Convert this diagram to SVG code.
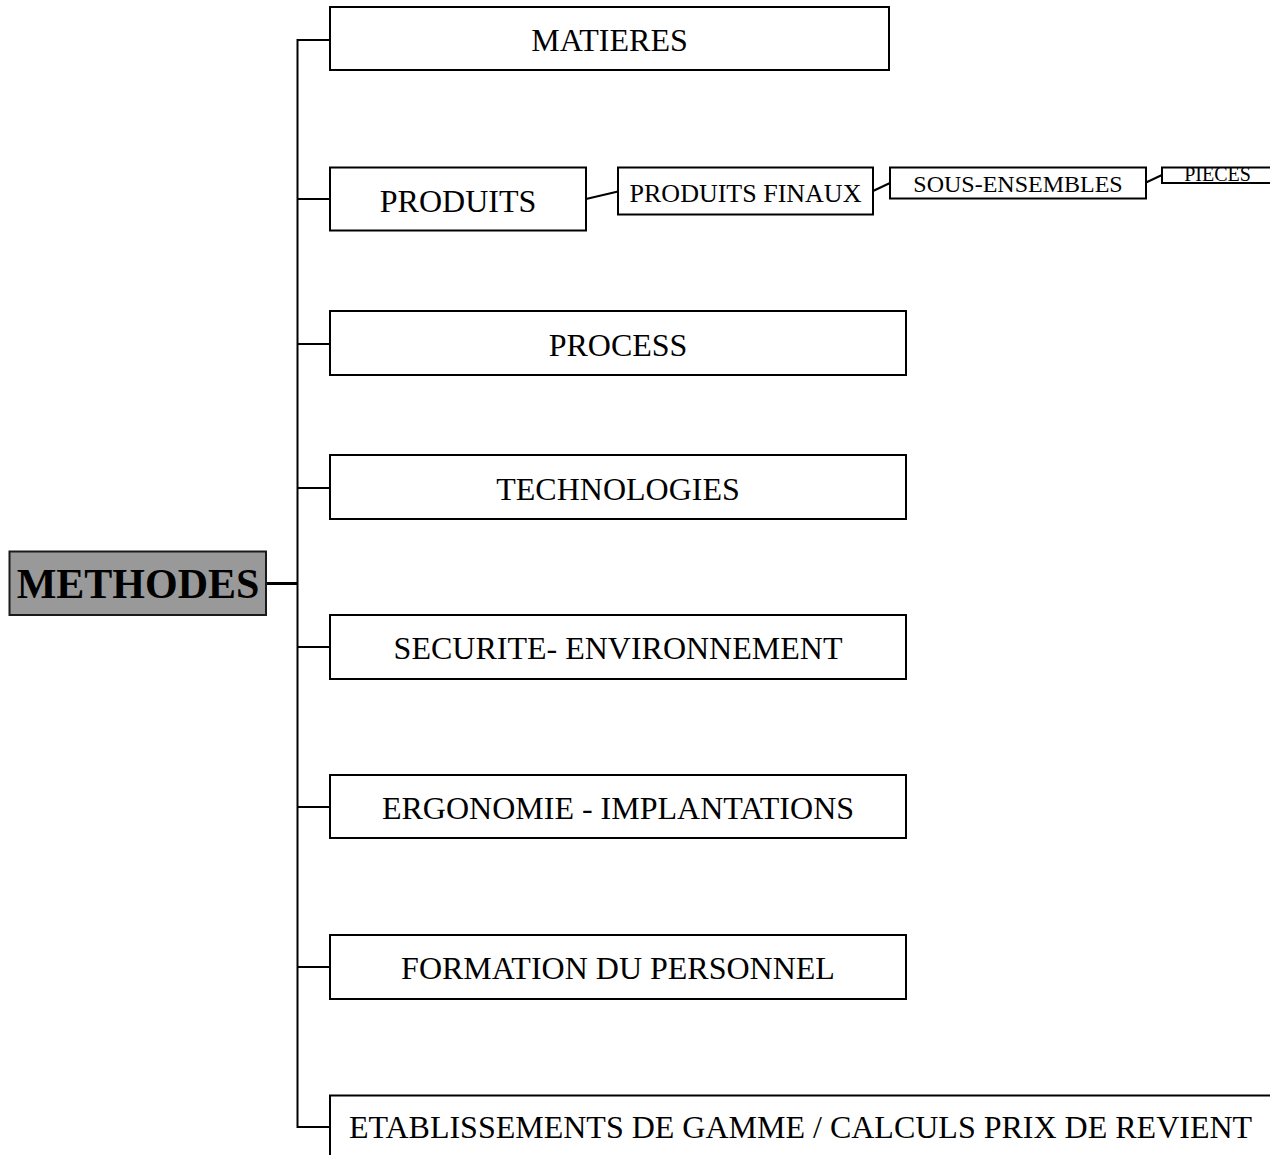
<svg xmlns="http://www.w3.org/2000/svg" width="1270" height="1155" viewBox="0 0 1270 1155">
  <style>
    .box { fill: #ffffff; stroke: #000000; stroke-width: 2; }
    .root { fill: #999999; stroke: #1a1a1a; stroke-width: 2; }
    .link { fill: none; stroke: #000000; stroke-width: 2; }
    .lbl { font-family: "Liberation Serif", "Times New Roman", serif; fill: #000000; text-anchor: middle; }
    .l32 { font-size: 32px; }
    .l26 { font-size: 26px; }
    .l24 { font-size: 24px; }
    .l20 { font-size: 20px; }
    .title { font-size: 42px; font-weight: bold; }
  </style>
  <rect width="1270" height="1155" fill="#ffffff"/>

  <!-- connectors -->
  <g id="connectors">
    <!-- trunk with top and bottom elbows -->
    <path class="link" d="M330,40 H297.5 V1127 H330"/>
    <line class="link" x1="266" y1="583.5" x2="297.5" y2="583.5" style="stroke-width:3"/>
    <line class="link" x1="297.5" y1="199" x2="330" y2="199"/>
    <line class="link" x1="297.5" y1="344" x2="330" y2="344"/>
    <line class="link" x1="297.5" y1="488" x2="330" y2="488"/>
    <line class="link" x1="297.5" y1="647" x2="330" y2="647"/>
    <line class="link" x1="297.5" y1="807" x2="330" y2="807"/>
    <line class="link" x1="297.5" y1="967" x2="330" y2="967"/>
    <!-- product breakdown chain -->
    <line class="link" x1="586" y1="199" x2="618" y2="191.5"/>
    <line class="link" x1="873" y1="191" x2="890" y2="183"/>
    <line class="link" x1="1146" y1="182.5" x2="1162" y2="175"/>
  </g>

  <g id="methodes">
    <rect class="root" x="9.5" y="551.5" width="256.5" height="63.5"/>
    <text class="lbl title" x="138" y="598">METHODES</text>
  </g>

  <g id="matieres">
    <rect class="box" x="330" y="7" width="559" height="63"/>
    <text class="lbl l32" x="609.5" y="51">MATIERES</text>
  </g>

  <g id="produits">
    <rect class="box" x="330" y="167.5" width="256" height="63"/>
    <text class="lbl l32" x="458" y="211.5">PRODUITS</text>
  </g>

  <g id="produits-finaux">
    <rect class="box" x="618" y="167.5" width="255" height="47"/>
    <text class="lbl l26" x="745.5" y="202">PRODUITS FINAUX</text>
  </g>

  <g id="sous-ensembles">
    <rect class="box" x="890" y="167.5" width="256" height="31"/>
    <text class="lbl l24" x="1018" y="192">SOUS-ENSEMBLES</text>
  </g>

  <g id="pieces">
    <rect class="box" x="1162" y="167.5" width="130" height="15.5"/>
    <text class="lbl l20" x="1217.5" y="181">PIECES</text>
  </g>

  <g id="process">
    <rect class="box" x="330" y="311" width="576" height="64"/>
    <text class="lbl l32" x="618" y="355.5">PROCESS</text>
  </g>

  <g id="technologies">
    <rect class="box" x="330" y="455" width="576" height="64"/>
    <text class="lbl l32" x="618" y="499.5">TECHNOLOGIES</text>
  </g>

  <g id="securite">
    <rect class="box" x="330" y="615" width="576" height="64"/>
    <text class="lbl l32" x="618" y="658.5">SECURITE- ENVIRONNEMENT</text>
  </g>

  <g id="ergonomie">
    <rect class="box" x="330" y="775" width="576" height="63"/>
    <text class="lbl l32" x="618" y="818.5">ERGONOMIE - IMPLANTATIONS</text>
  </g>

  <g id="formation">
    <rect class="box" x="330" y="935" width="576" height="64"/>
    <text class="lbl l32" x="618" y="978.5">FORMATION DU PERSONNEL</text>
  </g>

  <g id="etablissements">
    <rect class="box" x="330" y="1095.5" width="980" height="90"/>
    <text class="lbl l32" x="800.5" y="1137.5">ETABLISSEMENTS DE GAMME / CALCULS PRIX DE REVIENT</text>
  </g>
</svg>
